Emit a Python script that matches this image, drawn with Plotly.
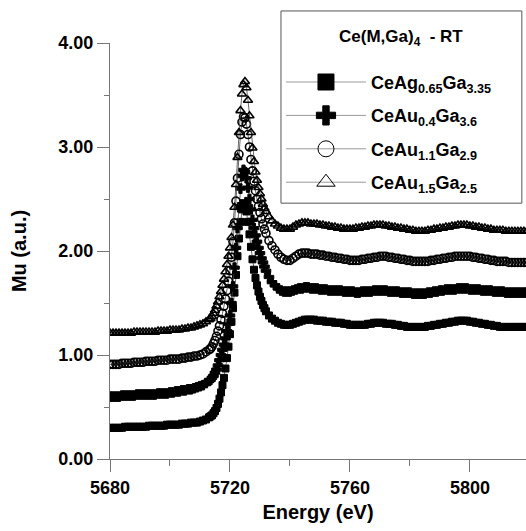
import plotly.graph_objects as go

# Photon energy (eV)
energy = [
    5680, 5681, 5682, 5683, 5684, 5685, 5686, 5687, 5688, 5689,
    5690, 5691, 5692, 5693, 5694, 5695, 5696, 5697, 5698, 5699,
    5700, 5701, 5702, 5703, 5704, 5705, 5706, 5707, 5708, 5709,
    5710, 5711, 5712, 5713,
    5713.5, 5714, 5714.5, 5715, 5715.5, 5716, 5716.5, 5717, 5717.5, 5718,
    5718.5, 5719, 5719.5, 5720, 5720.5, 5721, 5721.5, 5722, 5722.5, 5723,
    5723.5, 5724, 5724.5, 5725, 5725.5, 5726, 5726.5, 5727, 5727.5, 5728,
    5728.5, 5729, 5729.5, 5730, 5730.5, 5731, 5731.5, 5732,
    5733, 5734, 5735, 5736, 5737, 5738, 5739, 5740, 5741, 5742,
    5743, 5744, 5745, 5746, 5747, 5748, 5749, 5750, 5751, 5752,
    5753, 5754, 5755, 5756, 5757, 5758, 5759, 5760, 5761, 5762,
    5763, 5764, 5765, 5766, 5767, 5768, 5769, 5770, 5771, 5772,
    5773, 5774, 5775, 5776, 5777, 5778, 5779, 5780, 5781, 5782,
    5783, 5784, 5785, 5786, 5787, 5788, 5789, 5790, 5791, 5792,
    5793, 5794, 5795, 5796, 5797, 5798, 5799, 5800, 5801, 5802,
    5803, 5804, 5805, 5806, 5807, 5808, 5809, 5810, 5811, 5812,
    5813, 5814, 5815, 5816, 5817, 5818, 5819, 5820,
]

mu_ceag065 = [
    0.30, 0.30, 0.30, 0.30, 0.30, 0.31, 0.31, 0.31, 0.31, 0.31,
    0.31, 0.31, 0.31, 0.32, 0.32, 0.32, 0.32, 0.32, 0.32, 0.33,
    0.33, 0.33, 0.33, 0.33, 0.34, 0.34, 0.34, 0.35, 0.35, 0.35,
    0.36, 0.37, 0.38, 0.40,
    0.41, 0.42, 0.44, 0.46, 0.49, 0.53, 0.58, 0.64, 0.71, 0.78,
    0.87, 0.97, 1.08, 1.20, 1.32, 1.45, 1.60, 1.77, 1.95, 2.12,
    2.28, 2.40, 2.46, 2.45, 2.38, 2.28, 2.16, 2.04, 1.92, 1.82,
    1.74, 1.67, 1.61, 1.56, 1.52, 1.48, 1.45, 1.42,
    1.38, 1.35, 1.33, 1.31, 1.30, 1.29, 1.29, 1.29, 1.30, 1.31,
    1.32, 1.33, 1.34, 1.34, 1.34, 1.34, 1.33, 1.33, 1.33, 1.32,
    1.32, 1.32, 1.31, 1.31, 1.31, 1.30, 1.30, 1.29, 1.29, 1.29,
    1.29, 1.29, 1.29, 1.30, 1.30, 1.31, 1.31, 1.31, 1.31, 1.30,
    1.30, 1.30, 1.29, 1.29, 1.28, 1.28, 1.27, 1.27, 1.27, 1.27,
    1.27, 1.27, 1.27, 1.28, 1.28, 1.29, 1.29, 1.30, 1.30, 1.31,
    1.31, 1.32, 1.32, 1.33, 1.33, 1.33, 1.33, 1.32, 1.32, 1.31,
    1.31, 1.30, 1.30, 1.29, 1.29, 1.28, 1.28, 1.27, 1.27, 1.27,
    1.27, 1.27, 1.27, 1.27, 1.27, 1.27, 1.27, 1.27,
]

mu_ceau04 = [
    0.60, 0.60, 0.60, 0.60, 0.61, 0.61, 0.61, 0.61, 0.61, 0.62,
    0.62, 0.62, 0.62, 0.62, 0.62, 0.62, 0.63, 0.63, 0.63, 0.63,
    0.64, 0.64, 0.65, 0.65, 0.66, 0.66, 0.67, 0.67, 0.68, 0.69,
    0.70, 0.71, 0.73, 0.75,
    0.76, 0.78, 0.80, 0.83, 0.86, 0.90, 0.95, 1.00, 1.05, 1.10,
    1.16, 1.23, 1.30, 1.38, 1.50, 1.66, 1.84, 2.03, 2.22, 2.42,
    2.60, 2.72, 2.78, 2.76, 2.70, 2.61, 2.50, 2.40, 2.30, 2.22,
    2.15, 2.09, 2.03, 1.98, 1.93, 1.89, 1.85, 1.81,
    1.75, 1.70, 1.67, 1.64, 1.62, 1.61, 1.61, 1.61, 1.62, 1.63,
    1.64, 1.64, 1.65, 1.65, 1.64, 1.64, 1.64, 1.63, 1.63, 1.63,
    1.62, 1.62, 1.62, 1.62, 1.62, 1.61, 1.61, 1.61, 1.61, 1.60,
    1.60, 1.61, 1.61, 1.61, 1.61, 1.62, 1.62, 1.62, 1.62, 1.62,
    1.61, 1.61, 1.61, 1.61, 1.60, 1.60, 1.60, 1.60, 1.59, 1.59,
    1.59, 1.59, 1.59, 1.60, 1.60, 1.61, 1.61, 1.62, 1.62, 1.63,
    1.63, 1.63, 1.63, 1.64, 1.64, 1.64, 1.64, 1.63, 1.63, 1.63,
    1.63, 1.62, 1.62, 1.62, 1.62, 1.61, 1.61, 1.61, 1.61, 1.60,
    1.60, 1.60, 1.60, 1.60, 1.60, 1.60, 1.60, 1.60,
]

mu_ceau11 = [
    0.91, 0.91, 0.91, 0.91, 0.92, 0.92, 0.92, 0.92, 0.93, 0.93,
    0.93, 0.93, 0.94, 0.94, 0.94, 0.94, 0.95, 0.95, 0.95, 0.95,
    0.96, 0.96, 0.96, 0.96, 0.97, 0.97, 0.98, 0.98, 0.99, 0.99,
    1.00, 1.01, 1.03, 1.05,
    1.06, 1.08, 1.11, 1.14, 1.18, 1.23, 1.28, 1.34, 1.40, 1.47,
    1.54, 1.62, 1.71, 1.81, 1.94, 2.09, 2.27, 2.48, 2.70, 2.93,
    3.12, 3.24, 3.29, 3.28, 3.22, 3.12, 3.00, 2.88, 2.77, 2.67,
    2.58, 2.50, 2.43, 2.37, 2.31, 2.26, 2.21, 2.17,
    2.10, 2.05, 2.01, 1.97, 1.94, 1.92, 1.91, 1.91, 1.93, 1.95,
    1.97, 1.98, 1.98, 1.98, 1.97, 1.97, 1.97, 1.96, 1.96, 1.95,
    1.95, 1.94, 1.94, 1.93, 1.93, 1.92, 1.92, 1.91, 1.91, 1.91,
    1.91, 1.92, 1.92, 1.93, 1.93, 1.94, 1.94, 1.95, 1.95, 1.95,
    1.94, 1.94, 1.93, 1.93, 1.92, 1.92, 1.91, 1.91, 1.90, 1.90,
    1.90, 1.90, 1.90, 1.90, 1.91, 1.91, 1.92, 1.92, 1.93, 1.93,
    1.94, 1.94, 1.95, 1.95, 1.95, 1.95, 1.95, 1.95, 1.94, 1.94,
    1.93, 1.93, 1.92, 1.92, 1.91, 1.91, 1.90, 1.90, 1.90, 1.90,
    1.89, 1.89, 1.89, 1.89, 1.89, 1.89, 1.89, 1.89,
]

mu_ceau15 = [
    1.21, 1.21, 1.21, 1.21, 1.21, 1.21, 1.21, 1.21, 1.22, 1.22,
    1.22, 1.22, 1.22, 1.22, 1.22, 1.22, 1.23, 1.23, 1.23, 1.23,
    1.24, 1.24, 1.24, 1.24, 1.25, 1.25, 1.26, 1.26, 1.27, 1.28,
    1.29, 1.30, 1.32, 1.34,
    1.35, 1.37, 1.40, 1.43, 1.47, 1.51, 1.56, 1.61, 1.67, 1.73,
    1.80, 1.87, 1.95, 2.03, 2.13, 2.25, 2.42, 2.64, 2.90, 3.14,
    3.35, 3.51, 3.60, 3.63, 3.57, 3.45, 3.30, 3.14, 2.99, 2.86,
    2.76, 2.68, 2.61, 2.55, 2.50, 2.45, 2.41, 2.38,
    2.33, 2.29, 2.26, 2.24, 2.22, 2.21, 2.21, 2.21, 2.23, 2.25,
    2.26, 2.27, 2.27, 2.27, 2.26, 2.26, 2.26, 2.25, 2.25, 2.24,
    2.24, 2.23, 2.23, 2.22, 2.22, 2.21, 2.21, 2.21, 2.21, 2.22,
    2.22, 2.23, 2.23, 2.24, 2.24, 2.25, 2.25, 2.25, 2.25, 2.24,
    2.24, 2.23, 2.23, 2.22, 2.22, 2.21, 2.21, 2.20, 2.20, 2.19,
    2.19, 2.19, 2.19, 2.20, 2.20, 2.21, 2.21, 2.22, 2.22, 2.23,
    2.23, 2.24, 2.24, 2.25, 2.25, 2.25, 2.25, 2.24, 2.24, 2.23,
    2.23, 2.22, 2.22, 2.21, 2.21, 2.20, 2.20, 2.20, 2.20, 2.19,
    2.19, 2.19, 2.19, 2.19, 2.19, 2.19, 2.19, 2.19,
]

series_names = [
    "CeAg<sub>0.65</sub>Ga<sub>3.35</sub>",
    "CeAu<sub>0.4</sub>Ga<sub>3.6</sub>",
    "CeAu<sub>1.1</sub>Ga<sub>2.9</sub>",
    "CeAu<sub>1.5</sub>Ga<sub>2.5</sub>",
]
legend_title = "Ce(M,Ga)<sub>4</sub>  - RT"
series_values = [mu_ceag065, mu_ceau04, mu_ceau11, mu_ceau15]
symbols = ["square", "cross", "circle-open", "triangle-up-open"]
data_sizes = [7, 8, 8, 8]
data_lw = [1.0, 1.0, 1.6, 1.6]

x_ticks = [5680, 5720, 5760, 5800]
y_ticks = [0, 1, 2, 3, 4]

FONT = "Liberation Sans, Arial, sans-serif"

fig = go.Figure()

for name, vals, sym, sz, lw in zip(series_names, series_values, symbols, data_sizes, data_lw):
    fig.add_trace(go.Scatter(
        x=energy, y=vals, mode="lines+markers", showlegend=False,
        line=dict(color="#444", width=0.8),
        marker=dict(symbol=sym, size=sz, color="black",
                    line=dict(color="black", width=lw)),
    ))

# legend entries (drawn larger than the data markers)
for i, (name, sym) in enumerate(zip(series_names, symbols)):
    fig.add_trace(go.Scatter(
        x=[None], y=[None], mode="lines+markers", name=name,
        legendgroup=str(i),
        line=dict(color="#999", width=1),
        marker=dict(symbol=sym, size=16, color="black",
                    line=dict(color="black", width=1)),
    ))

# legend frame and heading
fig.add_shape(type="rect", xref="paper", yref="paper",
              x0=0.411, x1=0.990, y0=0.615, y1=1.077,
              line=dict(color="#555", width=1), fillcolor="white", layer="above")
fig.add_annotation(text=legend_title, xref="paper", yref="paper",
                   x=0.700, y=1.012, xanchor="center", yanchor="middle",
                   showarrow=False, font=dict(family=FONT, size=17, weight="bold"))

fig.update_layout(
    width=526, height=531,
    margin=dict(l=110, r=0, t=43, b=72),
    paper_bgcolor="white", plot_bgcolor="white",
    font=dict(family=FONT, color="black"),
    showlegend=True,
    legend=dict(
        x=0.411, y=0.950, xanchor="left", yanchor="top",
        bgcolor="rgba(0,0,0,0)", borderwidth=0,
        font=dict(family=FONT, size=18, color="black", weight="bold"),
        itemwidth=80, tracegroupgap=7,
    ),
    xaxis=dict(
        range=[5680, 5818.7], tickmode="array", tickvals=x_ticks,
        ticktext=[str(v) for v in x_ticks],
        tickfont=dict(family=FONT, size=18, weight="bold"), ticks="outside", ticklen=12,
        tickcolor="#777", showline=True, linecolor="#777", linewidth=1,
        showgrid=False, zeroline=False,
        minor=dict(ticks="outside", ticklen=6, tickcolor="#777", dtick=20, tick0=5680),
        title=dict(text="Energy (eV)", font=dict(family=FONT, size=20, weight="bold"), standoff=8),
    ),
    yaxis=dict(
        range=[0, 4.0], tickmode="array", tickvals=y_ticks,
        ticktext=[f"{v:.2f}" for v in y_ticks],
        tickfont=dict(family=FONT, size=18, weight="bold"), ticks="outside", ticklen=12,
        tickcolor="#777", showline=True, linecolor="#777", linewidth=1,
        showgrid=False, zeroline=False,
        minor=dict(ticks="outside", ticklen=5, tickcolor="#777", dtick=0.5, tick0=0),
        title=dict(text="Mu (a.u.)", font=dict(family=FONT, size=20, weight="bold"), standoff=26),
    ),
)

fig.write_html("out.html")
